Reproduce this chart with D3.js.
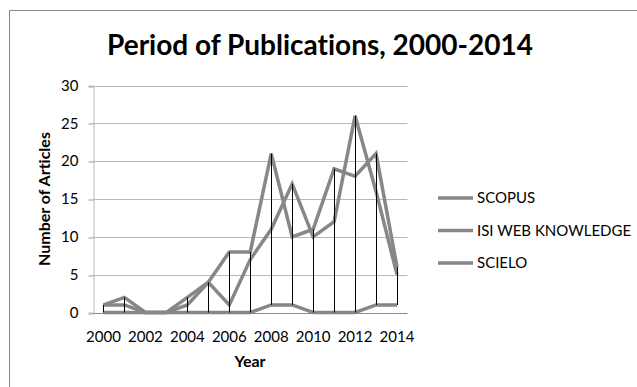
<!DOCTYPE html>
<html>
<head>
<meta charset="utf-8">
<script src="https://cdn.jsdelivr.net/npm/d3@7"></script>
<style>
  body { margin: 0; background: #fff; }
  text { font-family: Lato, "Open Sans", sans-serif; fill: #000; font-variant-ligatures: none; font-feature-settings: "liga" 0, "clig" 0; }
</style>
</head>
<body>
<div id="chart"></div>
<script>
// Data
const years = [2000, 2001, 2002, 2003, 2004, 2005, 2006, 2007, 2008, 2009, 2010, 2011, 2012, 2013, 2014];
const scopus = [1, 2, 0, 0, 2, 4, 8, 8, 21, 10, 11, 19, 18, 21, 6];
const isiWeb = [1, 1, 0, 0, 1, 4, 1, 7, 11, 17, 10, 12, 26, 16, 5];
const scielo = [0, 0, 0, 0, 0, 0, 0, 0, 1, 1, 0, 0, 0, 1, 1];
const seriesNames = ['SCOPUS', 'ISI WEB KNOWLEDGE', 'SCIELO'];
const yTicks = [0, 5, 10, 15, 20, 25, 30];
const xTickLabels = [2000, 2002, 2004, 2006, 2008, 2010, 2012, 2014];

const series = [scopus, isiWeb, scielo];

// Chart setup
const width = 637;
const height = 387;
const svg = d3.select('#chart')
  .append('svg')
  .attr('width', width)
  .attr('height', height);

// chart area border (runs off the right and bottom edge)
svg.append('path')
  .attr('d', `M9.5,${height + 2} V10.5 H${width + 2}`)
  .attr('fill', 'none')
  .attr('stroke', '#888')
  .attr('stroke-width', 1);

const plot = { left: 93, right: 407.5, top: 85.5, bottom: 312.5 };

const x = d3.scalePoint()
  .domain(years)
  .range([plot.left, plot.right])
  .padding(0.5);

const y = d3.scaleLinear()
  .domain([0, 30])
  .range([plot.bottom, plot.top]);

// Gridlines
svg.append('g')
  .selectAll('line')
  .data(yTicks.filter(d => d > 0))
  .enter().append('line')
  .attr('x1', plot.left)
  .attr('x2', plot.right)
  .attr('y1', d => Math.round(y(d)) + 0.5)
  .attr('y2', d => Math.round(y(d)) + 0.5)
  .attr('stroke', '#b8b8b8');

// Y axis
const yAxis = svg.append('g')
  .attr('transform', `translate(${plot.left + 0.5},0)`)
  .call(d3.axisLeft(y).tickValues(yTicks).tickSize(5).tickPadding(10));
yAxis.select('.domain').attr('stroke', '#bdbdbd');
yAxis.selectAll('.tick line').attr('stroke', '#9a9a9a')
  .attr('transform', d => `translate(0,${Math.round(y(d)) + 0.5 - y(d)})`);
yAxis.selectAll('.tick text')
  .style('font-family', 'Lato, sans-serif')
  .style('font-size', '15px')
  .attr('fill', '#111');

// X axis baseline
svg.append('line')
  .attr('x1', plot.left)
  .attr('x2', plot.right)
  .attr('y1', Math.round(y(0)) + 0.5)
  .attr('y2', Math.round(y(0)) + 0.5)
  .attr('stroke', '#8a8a8a');

// X tick labels
svg.append('g')
  .selectAll('text')
  .data(xTickLabels)
  .enter().append('text')
  .attr('x', d => x(d))
  .attr('y', 342)
  .attr('text-anchor', 'middle')
  .style('font-size', '15px')
  .attr('fill', '#111')
  .text(d => d);

// Series lines
const line = d3.line()
  .x((d, i) => x(years[i]))
  .y(d => y(d));

svg.append('g')
  .selectAll('path')
  .data(series)
  .enter().append('path')
  .attr('d', d => line(d))
  .attr('fill', 'none')
  .attr('stroke', '#878787')
  .attr('stroke-width', 3.5)
  .attr('stroke-linejoin', 'miter');

// High-low lines
svg.append('g')
  .selectAll('line')
  .data(years)
  .enter().append('line')
  .attr('x1', d => Math.round(x(d)) + 0.5)
  .attr('x2', d => Math.round(x(d)) + 0.5)
  .attr('y1', (d, i) => y(d3.min(series, s => s[i])))
  .attr('y2', (d, i) => y(d3.max(series, s => s[i])))
  .attr('stroke', '#000')
  .attr('stroke-width', 1);

// Title
svg.append('text')
  .attr('x', 320)
  .attr('y', 55)
  .attr('text-anchor', 'middle')
  .style('font-size', '28px')
  .style('font-weight', 'bold')
  .text('Period of Publications, 2000-2014');

// Axis titles
svg.append('text')
  .attr('transform', 'translate(50,199) rotate(-90)')
  .attr('text-anchor', 'middle')
  .style('font-size', '16px')
  .style('font-weight', 'bold')
  .text('Number of Articles');

svg.append('text')
  .attr('x', 250)
  .attr('y', 367)
  .attr('text-anchor', 'middle')
  .style('font-size', '16px')
  .style('font-weight', 'bold')
  .text('Year');

// Legend
const legend = svg.append('g')
  .selectAll('g')
  .data(seriesNames)
  .enter().append('g')
  .attr('transform', (d, i) => `translate(438,${198 + i * 32.5})`);

legend.append('line')
  .attr('x1', 0)
  .attr('x2', 35)
  .attr('stroke', '#878787')
  .attr('stroke-width', 3.5);

legend.append('text')
  .attr('x', 39)
  .attr('dy', '0.35em')
  .style('font-size', '15px')
  .attr('fill', '#111')
  .text(d => d);
</script>
</body>
</html>
